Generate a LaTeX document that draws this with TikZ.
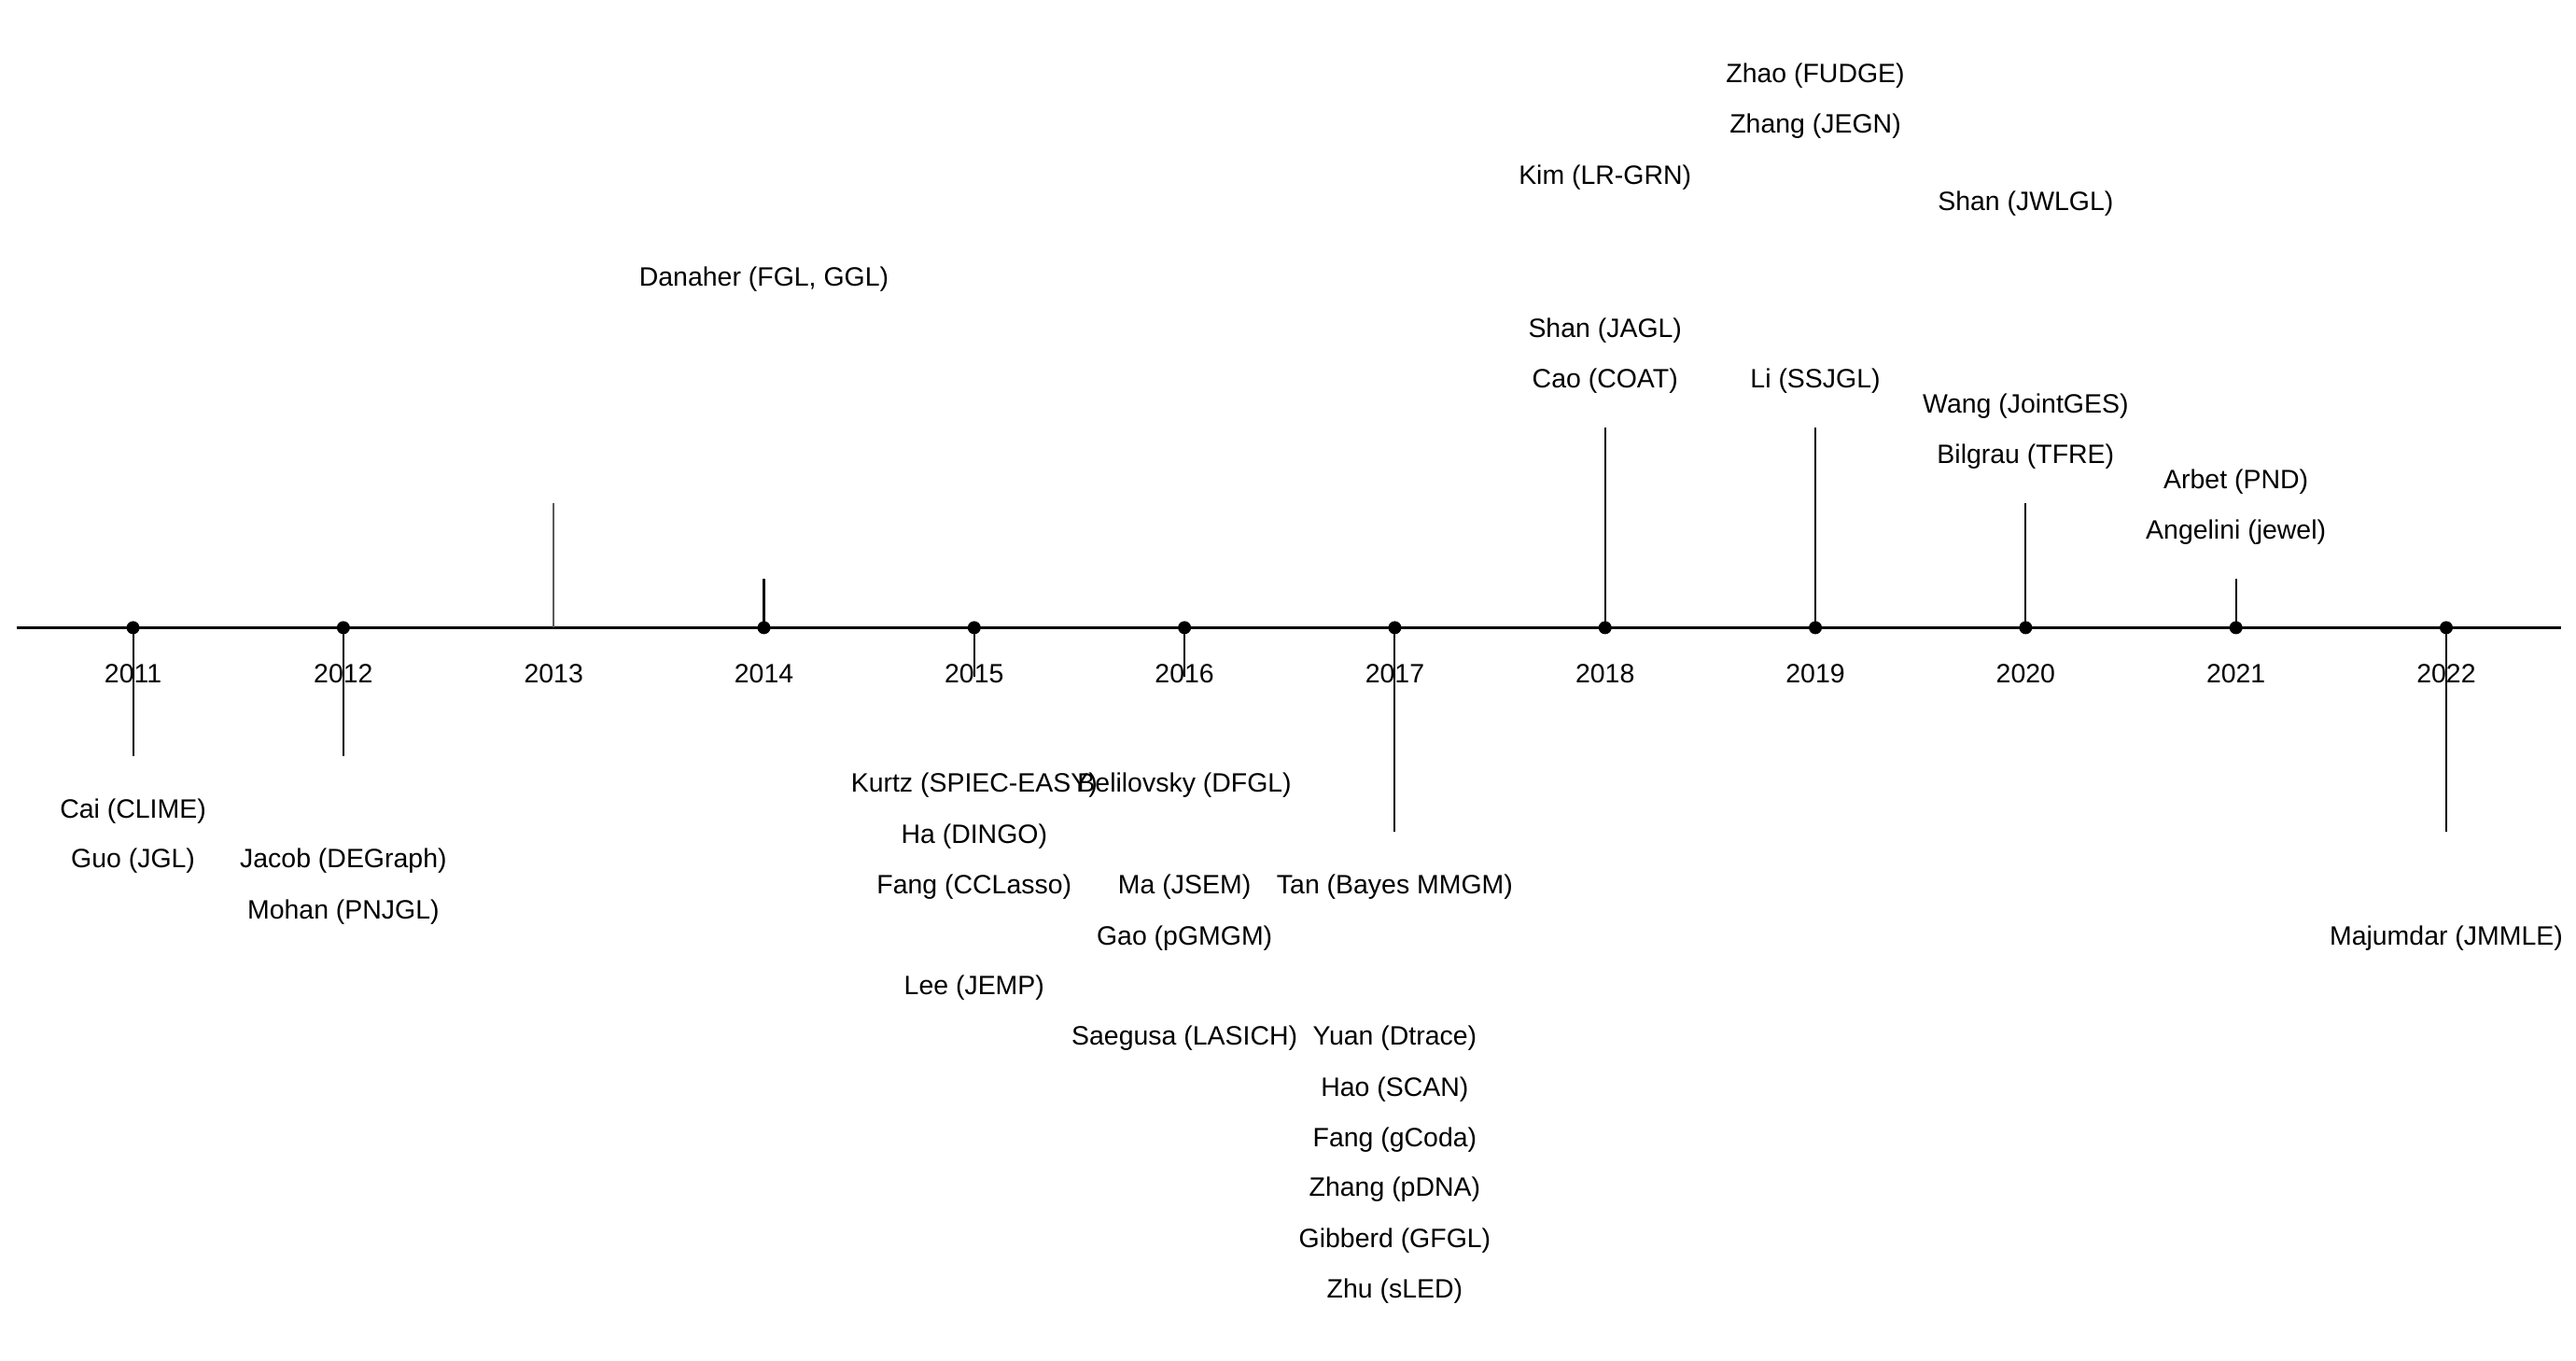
\documentclass[tikz,border=0pt]{standalone}
\usepackage{fontspec}
\setmainfont{Liberation Sans}
\usetikzlibrary{positioning}
\tikzset{
  yeardot/.style={circle, fill=black, inner sep=0pt, minimum size=1.4mm},
  yearlab/.style={font=\fontsize{8.1}{9.7}\selectfont, inner sep=0pt},
  paper/.style={font=\fontsize{8.1}{9.7}\selectfont, inner sep=0pt},
  stem/.style={line width=0.6pt, draw=black},
  faintstem/.style={line width=0.4pt, draw=black!65},
  axisline/.style={line width=0.8pt, draw=black}
}

\begin{document}
\begin{tikzpicture}[x=0.017602cm, y=-0.017602cm]
\useasboundingbox (0,0) rectangle (1568,828);
% axis
\coordinate (left) at (10,382);
\coordinate (right) at (1559,382);
\draw[axisline] (left) -- (right);
% years and stem ends
\foreach \yr/\len in {2011/78,2012/78,2013/-76,2014/-30,2015/30,2016/30,2017/124,2018/-122,2019/-122,2020/-76,2021/-30,2022/124}{
  \coordinate (p\yr) at ({81+128*(\yr-2011)},382);
  \coordinate (e\yr) at ({81+128*(\yr-2011)},{382+\len});
  \node[yearlab] (t\yr) at ({81+128*(\yr-2011)},410) {\yr};
}
\draw[faintstem] (p2013) -- (e2013);
\foreach \yr in {2011,2012,2014,2015,2016,2017,2018,2019,2020,2021,2022}{
  \draw[stem] (p\yr) -- (e\yr);
  \node[yeardot] (d\yr) at (p\yr) {};
}
% papers
\foreach \yr/\y/\txt [count=\i] in {
  2011/494/Cai (CLIME), 2011/524/Guo (JGL),
  2012/524/Jacob (DEGraph), 2012/555/Mohan (PNJGL),
  2014/170/{Danaher (FGL, GGL)},
  2015/478/Kurtz (SPIEC-EASY), 2015/509/Ha (DINGO), 2015/540/Fang (CCLasso), 2015/601/Lee (JEMP),
  2016/478/Belilovsky (DFGL), 2016/540/Ma (JSEM), 2016/571/Gao (pGMGM), 2016/632/Saegusa (LASICH),
  2017/540/Tan (Bayes MMGM), 2017/632/Yuan (Dtrace), 2017/663/Hao (SCAN), 2017/694/Fang (gCoda),
  2017/724/Zhang (pDNA), 2017/755/Gibberd (GFGL), 2017/786/Zhu (sLED),
  2018/108/Kim (LR-GRN), 2018/201/Shan (JAGL), 2018/232/Cao (COAT),
  2019/46/Zhao (FUDGE), 2019/77/Zhang (JEGN), 2019/232/Li (SSJGL),
  2020/124/Shan (JWLGL), 2020/247/Wang (JointGES), 2020/278/Bilgrau (TFRE),
  2021/293/Arbet (PND), 2021/324/Angelini (jewel),
  2022/571/Majumdar (JMMLE)}{
  \node[paper] (m\i) at ({81+128*(\yr-2011)},\y) {\txt};
}
\end{tikzpicture}
\end{document}
